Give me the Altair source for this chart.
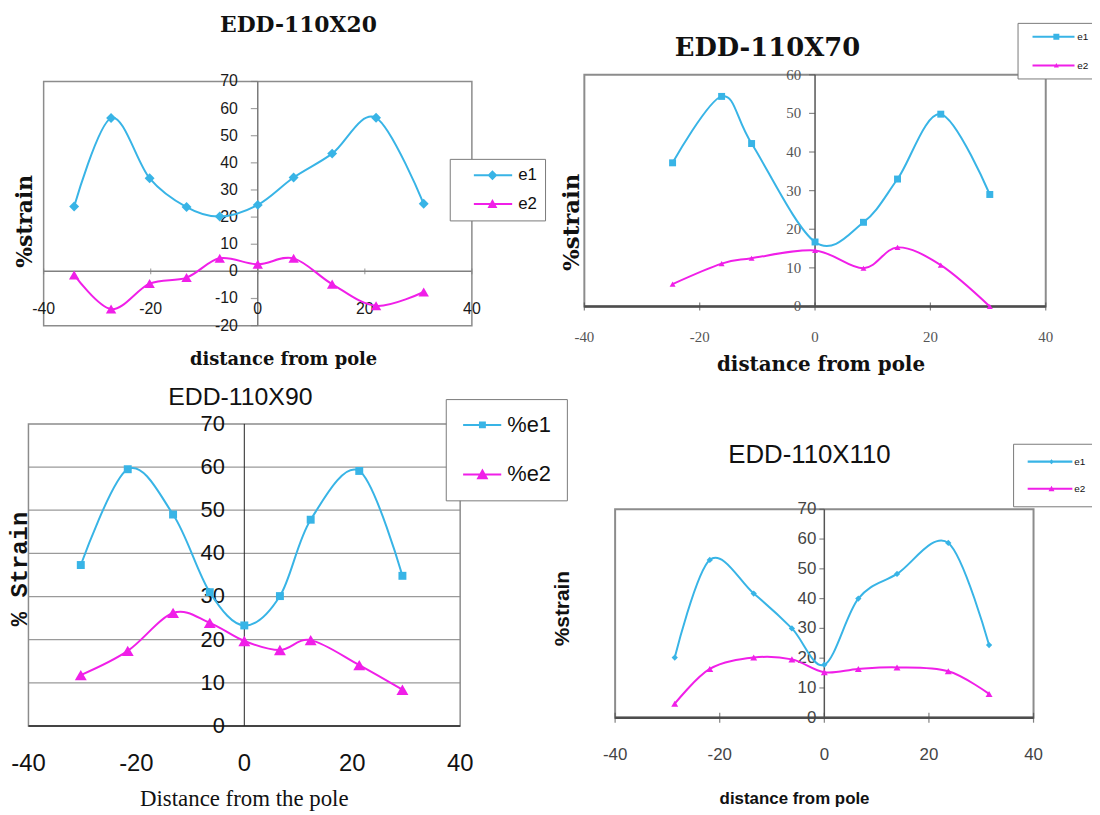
import altair as alt
import pandas as pd

CYAN = "#38b4e6"
MAGENTA = "#f01fe8"
SERIES = ["e1", "e2"]

# ---------------- data ----------------
# Panel 1: EDD-110X20
p1_x = [-34.3, -27.4, -20.2, -13.3, -7.1, 0.0, 6.7, 13.9, 22.1, 31.0]
p1_e1 = [23.9, 56.5, 34.3, 23.7, 20.2, 24.5, 34.6, 43.4, 56.6, 24.9]
p1_e2 = [-1.3, -13.9, -4.5, -2.3, 4.8, 2.6, 4.8, -4.7, -12.7, -7.6]
p1_yticks = [-20, -10, 0, 10, 20, 30, 40, 50, 60, 70]
p1_xticks = [-40, -20, 0, 20, 40]

# Panel 2: EDD-110X70
p2_x = [-24.7, -16.2, -11.0, 0.0, 8.4, 14.3, 21.8, 30.3]
p2_e1 = [37.2, 54.4, 42.2, 16.7, 21.8, 33.0, 49.8, 29.0]
p2_e2 = [5.8, 11.1, 12.5, 14.5, 9.9, 15.3, 10.7, 0.0]
p2_yticks = [0, 10, 20, 30, 40, 50, 60]
p2_xticks = [-40, -20, 0, 20, 40]

# Panel 3: EDD-110X90
p3_x = [-30.3, -21.6, -13.2, -6.4, 0.0, 6.6, 12.3, 21.3, 29.3]
p3_e1 = [37.3, 59.5, 49.0, 31.0, 23.3, 30.1, 47.8, 59.1, 34.8]
p3_e2 = [11.8, 17.4, 26.2, 23.9, 19.7, 17.6, 19.9, 14.1, 8.4]
p3_yticks = [0, 10, 20, 30, 40, 50, 60, 70]
p3_grid = [10, 20, 30, 40, 50, 60]
p3_xticks = [-40, -20, 0, 20, 40]

# Panel 4: EDD-110X110
p4_x = [-28.6, -21.9, -13.5, -6.2, 0.0, 6.5, 13.9, 23.7, 31.5]
p4_e1 = [20.2, 53.0, 41.7, 30.0, 17.8, 40.0, 48.3, 58.7, 24.4]
p4_e2 = [4.7, 16.4, 20.2, 19.6, 15.3, 16.4, 16.9, 15.6, 8.0]
p4_yticks = [0, 10, 20, 30, 40, 50, 60, 70]
p4_xticks = [-40, -20, 0, 20, 40]

SANS = "Liberation Sans"
NARROW = "Liberation Sans Narrow, Liberation Sans"
SERIF = "Liberation Serif"
BSERIF = "DejaVu Serif"
MONO = "Liberation Mono"


def marker_path(kind, m, h):
    if kind == "diamond":
        return f"M{m},{-h}L{m + h},0L{m},{h}L{m - h},0Z"
    if kind == "square":
        return f"M{m - h},{-h}H{m + h}V{h}H{m - h}Z"
    return f"M{m},{-h}L{m + h},{0.8 * h}L{m - h},{0.8 * h}Z"


def legend_symbol(a, b, m, kind, h, lw=0.17):
    return f"M{a},{-lw}H{b}V{lw}H{a}Z" + marker_path(kind, m, h)


def build(c):
    xs = alt.Scale(domain=c["xdom"], range=c["xr"], nice=False, zero=False)
    ys = alt.Scale(domain=c["ydom"], range=c["yr"], nice=False, zero=False)
    x0, x1 = c["xdom"]
    y0, y1 = c["ydom"]

    def X(f):
        return alt.X(f, type="quantitative", scale=xs, axis=None)

    def Y(f):
        return alt.Y(f, type="quantitative", scale=ys, axis=None)

    layers = []
    if c.get("grid"):
        g = pd.DataFrame({"y": c["grid"], "xa": x0, "xb": x1})
        layers.append(alt.Chart(g).mark_rule(color="#9a9a9a", strokeWidth=1.3)
                      .encode(x=X("xa"), x2="xb", y=Y("y")))
    fr = pd.DataFrame({"xa": [x0], "xb": [x1], "ya": [y0], "yb": [y1]})
    layers.append(alt.Chart(fr).mark_rect(fillOpacity=0, stroke=c["frame"], strokeWidth=c["frame_w"])
                  .encode(x=X("xa"), x2="xb", y=Y("ya"), y2="yb"))
    hz = pd.DataFrame({"xa": [x0], "xb": [x1], "y": [0]})
    layers.append(alt.Chart(hz).mark_rule(color=c["hax"], strokeWidth=c["hax_w"])
                  .encode(x=X("xa"), x2="xb", y=Y("y")))
    vz = pd.DataFrame({"x": [0], "ya": [y0], "yb": [y1]})
    layers.append(alt.Chart(vz).mark_rule(color=c["vax"], strokeWidth=c["vax_w"])
                  .encode(x=X("x"), y=Y("ya"), y2="yb"))
    if c.get("ytick"):
        t = pd.DataFrame({"x": 0, "y": c["yticks"]})
        layers.append(alt.Chart(t).mark_tick(orient="horizontal", size=c["ytick"], thickness=1.2,
                                             color=c["vax"], xOffset=-c["ytick"] / 2)
                      .encode(x=X("x"), y=Y("y")))
    if c.get("xtick"):
        t = pd.DataFrame({"x": c["xticks"], "y": 0})
        layers.append(alt.Chart(t).mark_tick(orient="vertical", size=c["xtick"], thickness=1.2,
                                             color=c["hax"])
                      .encode(x=X("x"), y=Y("y")))
    # tick labels
    yl = pd.DataFrame({"x": 0, "y": c["yticks"], "t": [str(v) for v in c["yticks"]]})
    layers.append(alt.Chart(yl).mark_text(align="right", baseline="middle", dx=c["ylab_dx"],
                                          font=c["tick_font"], fontSize=c["ytick_size"], color=c["tick_color"])
                  .encode(x=X("x"), y=Y("y"), text="t:N"))
    xl = pd.DataFrame({"x": c["xticks"], "y": 0, "t": [str(v) for v in c["xticks"]]})
    layers.append(alt.Chart(xl).mark_text(align="center", baseline="middle", dy=c["xlab_dy"],
                                          font=c["tick_font"], fontSize=c["xtick_size"], color=c["tick_color"])
                  .encode(x=X("x"), y=Y("y"), text="t:N"))
    # titles (sx, sy are screen offsets; rotated text offsets are turned into text-frame dx/dy)
    for key, ax, ay in (("title", 0, y1), ("xtitle", 0, c["xt_y"]), ("ytitle", x0, c["yt_y"])):
        d = c[key]
        ang = d.get("angle", 0)
        if ang == 270:
            dx, dy = -d["sy"], d["sx"]
        else:
            dx, dy = d["sx"], d["sy"]
        td = pd.DataFrame({"x": [ax], "y": [ay], "t": [d["text"]]})
        layers.append(alt.Chart(td).mark_text(align="center", baseline="middle", dx=dx, dy=dy,
                                              font=d["font"], fontSize=d["size"],
                                              fontWeight=d.get("weight", "normal"),
                                              angle=ang, color="#111111")
                      .encode(x=X("x"), y=Y("y"), text="t:N"))
    # series
    for vals, col, shp, size in ((c["e1"], CYAN, c["shapes"][0], c["sizes"][0]),
                                 (c["e2"], MAGENTA, c["shapes"][1], c["sizes"][1])):
        d = pd.DataFrame({"x": c["x"], "v": vals})
        layers.append(alt.Chart(d).mark_line(interpolate="cardinal", color=col, strokeWidth=2)
                      .encode(x=X("x"), y=Y("v")))
        layers.append(alt.Chart(d).mark_point(shape=shp, filled=True, size=size, color=col, opacity=1)
                      .encode(x=X("x"), y=Y("v")))
    # legend (library legend, no marks drawn)
    L = c["legend"]
    leg = alt.Legend(orient="none", legendX=L["x"], legendY=L["y"], title=None, padding=L["pad"],
                     strokeColor="#7a7a7a", fillColor="white", cornerRadius=0,
                     labelFont=L["font"], labelFontSize=L["fsize"], labelColor="#111111",
                     labelOffset=L["loff"], rowPadding=L["rowpad"], symbolSize=144,
                     symbolStrokeWidth=0, symbolOpacity=1, labelExpr=L.get("lexpr", "datum.label"))
    paths = [legend_symbol(*p) for p in L["paths"]]
    ld = pd.DataFrame({"s": SERIES, "x": [0, 0], "y": [0, 0]})
    layers.append(alt.Chart(ld).transform_filter("false").mark_point(filled=True, opacity=1)
                  .encode(x=X("x"), y=Y("y"),
                          fill=alt.Fill("s:N", scale=alt.Scale(domain=SERIES, range=[CYAN, MAGENTA]), legend=leg),
                          shape=alt.Shape("s:N", scale=alt.Scale(domain=SERIES, range=paths), legend=leg)))
    return alt.layer(*layers)


p1 = dict(
    x=p1_x, e1=p1_e1, e2=p1_e2, xdom=[-40, 40], ydom=[-20, 70], xr=[35.9, 467.3], yr=[317, 71],
    yticks=p1_yticks, xticks=p1_xticks, frame="#8c8c8c", frame_w=1.5, hax="#808080", hax_w=1.5,
    vax="#7a7a7a", vax_w=1.5, ytick=7, xtick=6, ylab_dx=-20, xlab_dy=38,
    tick_font=SANS, ytick_size=16, xtick_size=16, tick_color="#1a1a1a",
    title=dict(text="EDD-110X20", sx=41, sy=-57, font=BSERIF, size=22, weight="bold"),
    xt_y=-20, xtitle=dict(text="distance from pole", sx=26, sy=35, font=BSERIF, size=18, weight="bold"),
    yt_y=25, ytitle=dict(text="%strain", sx=-19, sy=18, font=BSERIF, size=22, weight="bold", angle=270),
    shapes=["diamond", "triangle-up"], sizes=[100, 110],
    legend=dict(x=445, y=149, pad=8, font=SANS, fsize=17, loff=44, rowpad=11,
                paths=[(1.3, 7.73, 4.42, "diamond", 0.83), (1.3, 7.73, 4.42, "triangle", 0.83)]),
)

p2 = dict(
    x=p2_x, e1=p2_e1, e2=p2_e2, xdom=[-40, 40], ydom=[0, 60], xr=[580.6, 1045.4], yr=[297.7, 64.3],
    yticks=p2_yticks, xticks=p2_xticks, frame="#8c8c8c", frame_w=2, hax="#4d4d4d", hax_w=2.5,
    vax="#555555", vax_w=1.5, ytick=6, xtick=8, ylab_dx=-14, xlab_dy=31,
    tick_font=SERIF, ytick_size=15, xtick_size=15, tick_color="#555555",
    title=dict(text="EDD-110X70", sx=-48, sy=-27, font=BSERIF, size=26, weight="bold"),
    xt_y=0, xtitle=dict(text="distance from pole", sx=6, sy=58.6, font=BSERIF, size=20, weight="bold"),
    yt_y=20, ytitle=dict(text="%strain", sx=-12, sy=-7, font=BSERIF, size=23, weight="bold", angle=270),
    shapes=["square", "triangle-up"], sizes=[49, 36],
    legend=dict(x=1017, y=12, pad=8, font=SANS, fsize=10, loff=40.1, rowpad=18,
                paths=[(0.18, 7.23, 4.18, "square", 0.5), (0.18, 7.23, 4.18, "triangle", 0.42)]),
)

p3 = dict(
    x=p3_x, e1=p3_e1, e2=p3_e2, xdom=[-40, 40], ydom=[0, 70], xr=[20.6, 455.5], yr=[720.3, 416],
    yticks=p3_yticks, xticks=p3_xticks, grid=p3_grid, frame="#8c8c8c", frame_w=1.5, hax="#444444", hax_w=2,
    vax="#222222", vax_w=1, ytick=0, xtick=0, ylab_dx=-19.6, xlab_dy=38.7,
    tick_font=NARROW, ytick_size=22, xtick_size=24, tick_color="#111111",
    title=dict(text="EDD-110X90", sx=-4, sy=-27, font=NARROW, size=25),
    xt_y=0, xtitle=dict(text="Distance from the pole", sx=0, sy=73.4, font=SERIF, size=23),
    yt_y=35, ytitle=dict(text="% Strain", sx=-8.1, sy=-6, font=MONO, size=24, weight="bold", angle=270),
    shapes=["square", "triangle-up"], sizes=[64, 144],
    legend=dict(x=441, y=391, pad=15, font=NARROW, fsize=22, loff=25, rowpad=28,
                lexpr="'%' + datum.label",
                paths=[(-1.42, 4.98, 1.82, "square", 0.58), (-1.42, 4.98, 1.82, "triangle", 1.0)]),
)

p4 = dict(
    x=p4_x, e1=p4_e1, e2=p4_e2, xdom=[-40, 40], ydom=[0, 70], xr=[611.6, 1033.1], yr=[712, 502],
    yticks=p4_yticks, xticks=p4_xticks, frame="#8c8c8c", frame_w=2, hax="#4d4d4d", hax_w=2.5,
    vax="#555555", vax_w=1.5, ytick=5, xtick=10, ylab_dx=-8, xlab_dy=38,
    tick_font=SANS, ytick_size=17, xtick_size=17, tick_color="#444444",
    title=dict(text="EDD-110X110", sx=-15, sy=-55, font=SANS, size=26),
    xt_y=0, xtitle=dict(text="distance from pole", sx=-30, sy=81.7, font=SANS, size=17, weight="bold"),
    yt_y=35, ytitle=dict(text="%strain", sx=-52.6, sy=-5, font=SANS, size=21, weight="bold", angle=270),
    shapes=["diamond", "triangle-up"], sizes=[40, 49],
    legend=dict(x=1012.5, y=436, pad=12, font=SANS, fsize=10, loff=37.7, rowpad=16.4,
                paths=[(-0.55, 6.95, 3.45, "diamond", 0.42), (-0.55, 6.95, 3.45, "triangle", 0.5)]),
)

chart = (
    alt.layer(build(p1), build(p2), build(p3), build(p4))
    .resolve_scale(x="independent", y="independent", fill="independent", shape="independent")
    .properties(width=1092, height=807, padding=0, autosize=alt.AutoSizeParams(type="none"),
                background="white")
    .configure_view(stroke=None)
)

chart.save("out.html", embed_options={"renderer": "svg", "actions": False})
